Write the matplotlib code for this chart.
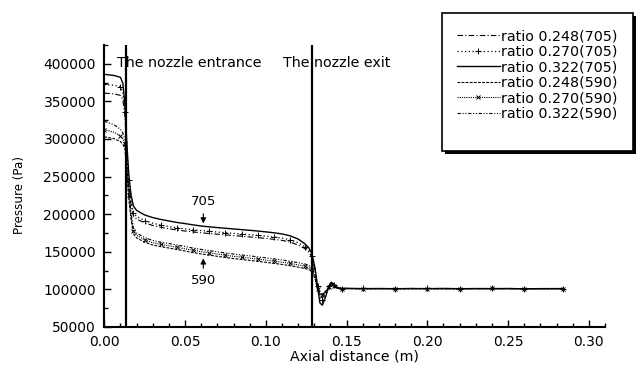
#!/usr/bin/env python3
"""
 Plot static pressure along the nozzle axis for three area ratios
 at two inlet temperatures (705 and 590).
"""

import matplotlib
matplotlib.use("Agg")
import matplotlib.pyplot as plt
from matplotlib.patches import Rectangle
from matplotlib.ticker import MultipleLocator, FormatStrFormatter

# Axial positions (m), shared by all six curves
axial_x = [0.000, 0.006, 0.010, 0.0115, 0.0128, 0.0140, 0.0152, 0.0165, 0.0180,
           0.020, 0.025, 0.030, 0.035, 0.040, 0.045, 0.050, 0.055, 0.060, 0.065,
           0.070, 0.075, 0.080, 0.085, 0.090, 0.095, 0.100, 0.105, 0.110, 0.115,
           0.120,
           0.1240, 0.1265, 0.1285, 0.1305, 0.1320, 0.1335, 0.1350, 0.1370, 0.1390,
           0.1405, 0.1420, 0.1440, 0.1470, 0.150,
           0.160, 0.170, 0.180, 0.190, 0.200, 0.210, 0.220, 0.230, 0.240, 0.250,
           0.260, 0.270, 0.284]

# Pressure (Pa)
p248_705 = [361000, 360000, 358000, 352000, 330000, 280000, 240000, 214000, 198000,
            193500, 188500, 185000, 182600, 180600, 179000, 177600, 176400, 175300, 174300,
            173400, 172500, 171600, 170700, 169800, 168800, 167800, 166600, 165200, 163000,
            159000,
            154500, 150000, 143000, 125000, 105000, 91000, 89000, 95000, 104500,
            108000, 106000, 102500, 101000, 101200,
            100900, 101100, 101000, 101300, 100900, 101100, 101000, 101200, 100800, 101000,
            101100, 100900, 101000]
p270_705 = [372500, 371500, 369500, 362000, 336000, 285000, 245000, 218000, 202000,
            197000, 191500, 188000, 185500, 183500, 182000, 180500, 179300, 178200, 177200,
            176300, 175400, 174500, 173600, 172700, 171800, 170800, 169600, 168200, 166000,
            162000,
            157000, 152000, 145000, 126000, 104000, 88000, 86000, 93000, 104000,
            108500, 106500, 102500, 101000, 100900,
            101200, 100900, 101100, 101000, 101200, 100800, 101100, 101000, 101300, 100900,
            101000, 101100, 101000]
p322_705 = [386000, 384500, 382000, 374000, 345000, 292000, 252000, 226000, 211000,
            205000, 199000, 195500, 193000, 191000, 189000, 187500, 185800, 184300, 183200,
            182200, 181300, 180400, 179500, 178600, 177600, 176500, 175300, 173800, 171300,
            167000,
            161000, 155500, 148000, 128000, 104000, 82000, 79000, 90000, 104000,
            109500, 107500, 103000, 101000, 101500,
            101000, 101200, 100900, 101100, 101000, 101300, 100900, 101100, 101000, 101200,
            100800, 101000, 101100]
p248_590 = [303000, 300500, 296500, 293000, 287000, 252000, 220000, 194000, 174000,
            168500, 162800, 159000, 156800, 155000, 153000, 151000, 149000, 147200, 145600,
            144000, 142500, 141000, 139800, 138600, 137300, 136000, 134600, 133200, 131600,
            129500,
            128000, 126500, 124500, 114000, 101000, 94500, 94000, 97500, 103000,
            106000, 104500, 101800, 101000, 101100,
            100900, 101000, 101200, 100900, 101100, 101000, 100800, 101200, 101000, 101100,
            100900, 101000, 101000]
p270_590 = [312500, 309000, 304000, 300000, 293000, 258000, 225000, 198000, 178000,
            172000, 166000, 162000, 159800, 158000, 156000, 154000, 152000, 150200, 148600,
            147000, 145500, 144000, 142800, 141600, 140300, 139000, 137600, 136200, 134600,
            132500,
            131000, 129000, 126500, 115000, 101000, 93500, 93000, 97000, 103500,
            106500, 105000, 102000, 101000, 101000,
            101100, 100900, 101000, 101200, 101000, 100900, 101100, 101000, 101200, 100900,
            101100, 101000, 100900]
p322_590 = [323500, 319000, 313000, 308000, 299000, 264000, 230000, 203000, 182000,
            175000, 169000, 165000, 162800, 161000, 159000, 157000, 155000, 153200, 151600,
            150000, 148500, 147000, 145800, 144600, 143300, 142000, 140600, 139200, 137600,
            135500,
            134000, 132000, 129000, 117000, 102000, 93000, 92000, 96500, 103500,
            107000, 105500, 102000, 101000, 101200,
            101000, 101100, 100900, 101000, 101200, 101000, 101100, 100900, 101000, 101200,
            101000, 100900, 101100]

series_labels = ["ratio 0.248(705)", "ratio 0.270(705)", "ratio 0.322(705)",
                 "ratio 0.248(590)", "ratio 0.270(590)", "ratio 0.322(590)"]

# Nozzle entrance / exit positions (m)
nozzle_entrance = 0.0132
nozzle_exit = 0.1283

FIG_W, FIG_H = 637, 372


def fx(px):
    return px / FIG_W


def fy(py):
    return 1 - py / FIG_H


def plot_pressure(output_file="out.png"):
    fig = plt.figure(figsize=(6.37, 3.72), dpi=100)
    ax = fig.add_axes([fx(104.3), fy(327), fx(605) - fx(104.3), fy(45) - fy(327)])

    styles = [
        dict(ls=(0, (5, 2, 1, 2)), lw=0.8),
        dict(ls=(0, (1, 2)), lw=0.9, marker="+", ms=4, markevery=2),
        dict(ls="-", lw=1.0),
        dict(ls=(0, (2.5, 1.2)), lw=0.8),
        dict(ls=(0, (1, 1)), lw=0.8, marker="x", ms=3, markevery=2),
        dict(ls=(0, (3, 1.5, 1, 1.5, 1, 1.5)), lw=0.8),
    ]
    curves = [p248_705, p270_705, p322_705, p248_590, p270_590, p322_590]
    handles = []
    for y, label, st in zip(curves, series_labels, styles):
        h, = ax.plot(axial_x, y, color="black", label=label, mew=0.7, **st)
        handles.append(h)

    ax.axvline(nozzle_entrance, color="black", lw=1.6)
    ax.axvline(nozzle_exit, color="black", lw=1.6)
    ax.text(0.0077, 401700, "The nozzle entrance", fontsize=10.3, va="center", ha="left")
    ax.text(0.1108, 401700, "The nozzle exit", fontsize=10.3, va="center", ha="left")

    arrow = dict(arrowstyle="-|>", color="black", lw=0.8, mutation_scale=8)
    ax.annotate("705", xy=(0.0613, 184000), xytext=(0.0613, 216600),
                ha="center", va="center", fontsize=9.5, arrowprops=arrow)
    ax.annotate("590", xy=(0.0613, 145000), xytext=(0.0613, 112000),
                ha="center", va="center", fontsize=9.5, arrowprops=arrow)

    ax.set_xlim(0, 0.31)
    ax.set_ylim(50000, 425000)
    ax.xaxis.set_major_locator(MultipleLocator(0.05))
    ax.xaxis.set_minor_locator(MultipleLocator(0.01))
    ax.xaxis.set_major_formatter(FormatStrFormatter("%.2f"))
    ax.yaxis.set_major_locator(MultipleLocator(50000))
    ax.yaxis.set_minor_locator(MultipleLocator(25000))

    for side in ("top", "right"):
        ax.spines[side].set_visible(False)
    for side in ("left", "bottom"):
        ax.spines[side].set_linewidth(1.5)
    ax.tick_params(which="both", direction="in", width=1, labelsize=10, pad=6)
    ax.tick_params(which="major", length=5)
    ax.tick_params(which="minor", length=3)

    ax.set_xlabel("Axial distance (m)", fontsize=10.2)
    ax.set_ylabel("Pressure (Pa)", fontsize=8.6)
    ax.xaxis.set_label_coords(0.5, (327 - 349) / 282)
    ax.yaxis.set_label_coords((26 - 104.3) / 500.7, (327 - 195) / 282)

    # Legend box with a solid drop shadow
    x0, y0, x1, y1 = 442, 13, 633, 151
    fig.add_artist(Rectangle((fx(x0 + 2.5), fy(y1 + 2.5)), fx(x1 - x0), fy(y0) - fy(y1),
                             transform=fig.transFigure, fc="black", ec="none", zorder=2))
    fig.add_artist(Rectangle((fx(x0), fy(y1)), fx(x1 - x0), fy(y0) - fy(y1),
                             transform=fig.transFigure, fc="white", ec="black", lw=1.2, zorder=3))
    fig.legend(handles=handles, loc="upper left", bbox_to_anchor=(fx(457), fy(29)),
               frameon=False, fontsize=10.3, borderpad=0, borderaxespad=0,
               handlelength=3.0, handletextpad=0.1, labelspacing=0.11, numpoints=1)

    fig.savefig(output_file, dpi=100)
    print(f"Plot saved to {output_file}")


def main():
    plot_pressure("out.png")


if __name__ == "__main__":
    main()
